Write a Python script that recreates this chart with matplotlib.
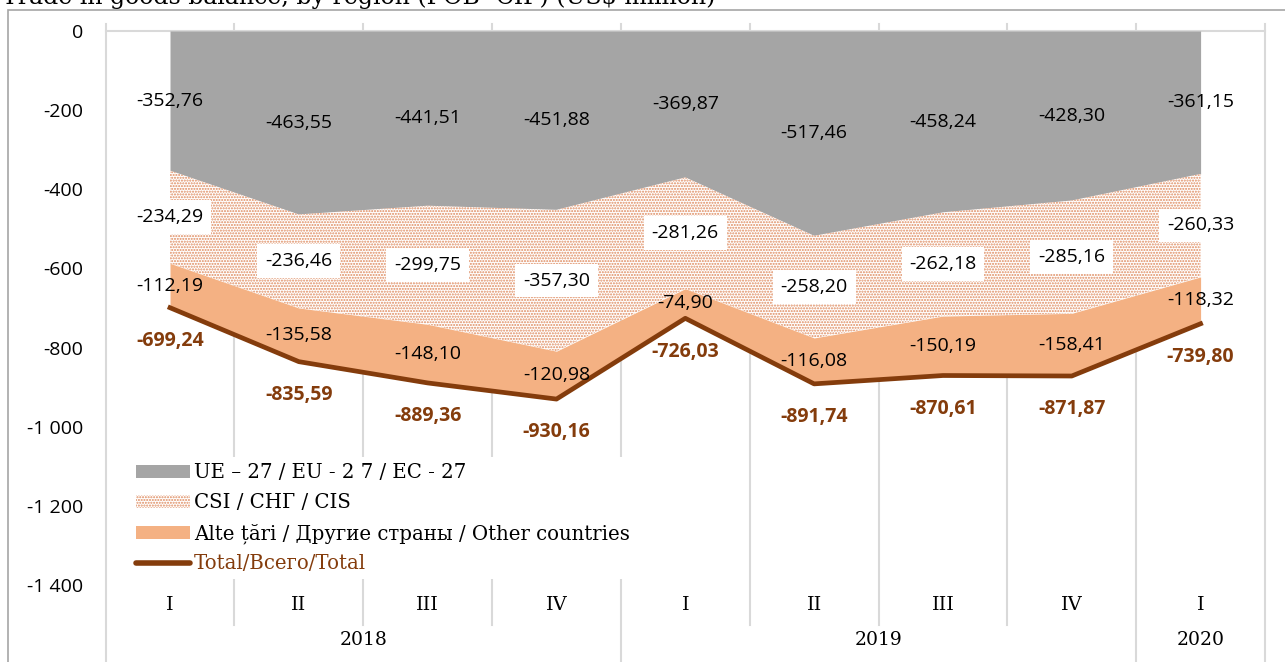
import numpy as np
import matplotlib.pyplot as plt
from matplotlib.patches import Patch, Rectangle
from matplotlib.lines import Line2D

plt.rcParams['font.family'] = ['DejaVu Serif']

quarters = ['I', 'II', 'III', 'IV', 'I', 'II', 'III', 'IV', 'I']
years = ['2018', '2019', '2020']
year_first = [0, 4, 8]
year_last = [3, 7, 8]

eu = [-352.76, -463.55, -441.51, -451.88, -369.87, -517.46, -458.24, -428.30, -361.15]
cis = [-234.29, -236.46, -299.75, -357.30, -281.26, -258.20, -262.18, -285.16, -260.33]
other = [-112.19, -135.58, -148.10, -120.98, -74.90, -116.08, -150.19, -158.41, -118.32]
total = [-699.24, -835.59, -889.36, -930.16, -726.03, -891.74, -870.61, -871.87, -739.80]

yticks = [0, -200, -400, -600, -800, -1000, -1200, -1400]

c_eu = '#A5A5A5'
c_cis = '#DE8A5E'
c_oth = '#F4B183'
c_tot = '#843C0C'
c_grid = '#D9D9D9'

num_font = ['Open Sans', 'DejaVu Sans']


def fmt(v):
    return f'{v:.2f}'.replace('.', ',')


def fmt_tick(v):
    s = f'{abs(int(v)):,}'.replace(',', ' ')
    return ('-' if v < 0 else '') + s


x = np.arange(len(quarters))
eu_a = np.array(eu)
cis_b = eu_a + np.array(cis)
oth_b = cis_b + np.array(other)

fig = plt.figure(figsize=(12.85, 6.62), dpi=100)
ax = fig.add_axes([105.6 / 1285, 1 - 585 / 662, (1265 - 105.6) / 1285, 554 / 662])

ax.fill_between(x, 0, eu_a, color=c_eu, lw=0, zorder=2)
ax.fill_between(x, eu_a, cis_b, facecolor='white', edgecolor=c_cis, hatch='......', lw=0, zorder=2)
ax.fill_between(x, cis_b, oth_b, color=c_oth, lw=0, zorder=2)
ax.plot(x, total, color=c_tot, lw=3.4, zorder=3)

ax.set_xlim(-0.5, len(quarters) - 0.5)
ax.set_ylim(-1400, 0)
ax.set_xticks([])
ax.set_yticks(yticks)
ax.set_yticklabels([fmt_tick(v) for v in yticks], fontsize=14, family=num_font)
ax.tick_params(axis='y', length=0, pad=16)
for s in ax.spines.values():
    s.set_visible(False)

# lignes de séparation des catégories
tr = ax.get_xaxis_transform()
bounds = np.arange(-0.5, len(quarters), 1.0)
year_bounds = [year_first[0] - 0.5] + [l + 0.5 for l in year_last]
for b in bounds:
    ybot = -0.139 if b in year_bounds else -0.072
    ax.plot([b, b], [ybot, 1.013], transform=tr, color=c_grid, lw=1.5, zorder=1, clip_on=False)
ax.plot([-0.5, len(quarters) - 0.5], [1, 1], transform=tr, color=c_grid, lw=1.5, zorder=1, clip_on=False)

for i, q in enumerate(quarters):
    ax.text(i, -0.036, q, transform=tr, ha='center', va='center', fontsize=14)
for y, a, b in zip(years, year_first, year_last):
    ax.text((a + b) / 2, -0.099, y, transform=tr, ha='center', va='center', fontsize=13.5)

# étiquettes de données
for i in x:
    ax.annotate(fmt(eu[i]), (i, eu_a[i] / 2), xytext=(0, 0), textcoords='offset points',
                ha='center', va='center', fontsize=14, family=num_font, zorder=5)
    ax.annotate(fmt(cis[i]), (i, (eu_a[i] + cis_b[i]) / 2), xytext=(0, 0), textcoords='offset points',
                ha='center', va='center', fontsize=14, family=num_font, zorder=5,
                bbox=dict(boxstyle='square,pad=0.4', fc='white', ec='none'))
    ax.annotate(fmt(other[i]), (i, (cis_b[i] + oth_b[i]) / 2), xytext=(0, 0),
                textcoords='offset points', ha='center', va='center', fontsize=14,
                family=num_font, zorder=5)
    ax.annotate(fmt(total[i]), (i, total[i]), xytext=(0, -24), textcoords='offset points',
                ha='center', va='center', fontsize=14, fontweight='bold', family=num_font,
                color=c_tot, zorder=5)

handles = [
    Patch(facecolor=c_eu, edgecolor='none', label='UE – 27 / EU - 2 7 / EC - 27'),
    Patch(facecolor='white', edgecolor=c_cis, hatch='......', lw=0, label='CSI / СНГ / CIS'),
    Patch(facecolor=c_oth, edgecolor='none', label='Alte țări / Другие страны / Other countries'),
    Line2D([], [], color=c_tot, lw=4, solid_capstyle='round', label='Total/Всего/Total'),
]
leg = ax.legend(handles=handles, loc='upper left', bbox_to_anchor=(0.013, 0.248), frameon=True,
                fontsize=14.2, handlelength=2.7, handleheight=0.65, handletextpad=0.2,
                labelspacing=0.55, borderpad=0.3)
leg.get_frame().set_facecolor('white')
leg.get_frame().set_edgecolor('none')
leg.get_frame().set_alpha(1)
leg.set_zorder(6)
leg.get_texts()[3].set_color(c_tot)

# cadre et titre coupé
fig.patches.append(Rectangle((8 / 1285, -0.1), 1.1, 1 - 10 / 662 + 0.1, transform=fig.transFigure,
                             fill=False, ec='#A6A6A6', lw=1.2))
fig.text(2 / 1285, 1 - 4 / 662, 'Trade in goods balance, by region (FOB- CIF) (US$ million)',
         fontsize=17, va='baseline', ha='left')

plt.savefig('out.png', dpi=100)
